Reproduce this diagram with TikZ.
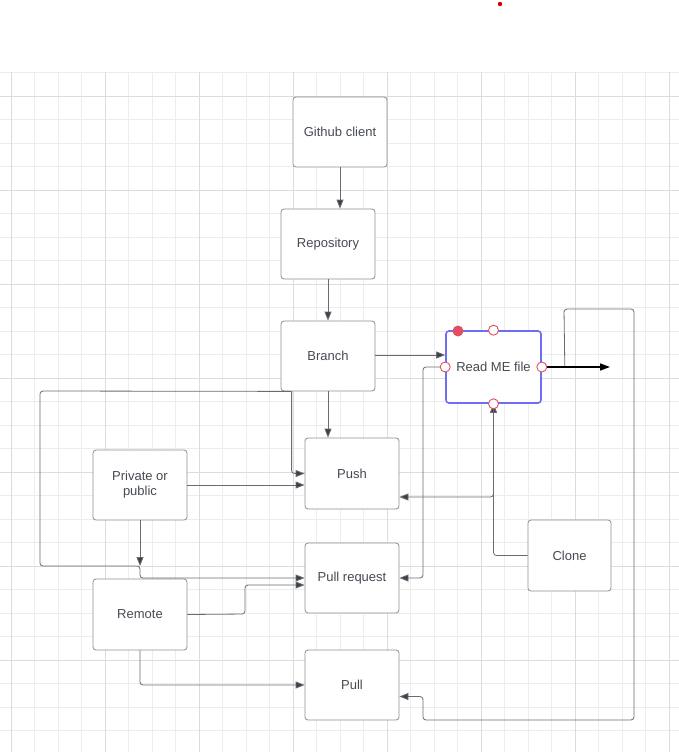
\documentclass[tikz,border=0pt]{standalone}
\usepackage{fontspec}
\setmainfont{Liberation Sans}
\usetikzlibrary{arrows.meta,calc}
\definecolor{gridminor}{HTML}{EDEDED}
\definecolor{gridmajor}{HTML}{DCDCDC}
\definecolor{boxline}{HTML}{8B8F96}
\definecolor{txt}{HTML}{454A52}
\definecolor{wire}{HTML}{676C73}
\definecolor{tipc}{HTML}{3C4148}
\definecolor{selblue}{HTML}{6E6EF2}
\definecolor{handle}{HTML}{E0505E}
\begin{document}
\begin{tikzpicture}[x=1pt,y=-1pt,
  box/.style={draw=boxline,line width=0.8pt,fill=white,rounded corners=3pt,
    minimum width=94pt,minimum height=70pt,inner sep=0pt,
    font=\fontsize{13}{15}\selectfont,text=txt,align=center},
  conn/.style={draw=wire,line width=0.8pt,rounded corners=3pt,
    -{Triangle[length=9pt,width=7pt,fill=tipc]}},
  plain/.style={draw=wire,line width=0.8pt,rounded corners=3pt},
  hdl/.style={circle,draw=handle,fill=white,line width=0.9pt,minimum size=10pt,inner sep=0pt}]
\useasboundingbox (0,0) rectangle (679,752);
\fill[white] (0,0) rectangle (679,752);
% background grid
\foreach \k in {0,...,28}{
  \pgfmathsetmacro{\gx}{11.3+23.5*\k}
  \draw[gridminor,line width=0.8pt] (\gx,72) -- (\gx,752);}
\foreach \k in {0,...,29}{
  \pgfmathsetmacro{\gy}{72.5+23.5*\k}
  \draw[gridminor,line width=0.8pt] (0,\gy) -- (679,\gy);}
\foreach \k in {0,...,7}{
  \pgfmathsetmacro{\gx}{11.3+94*\k}
  \draw[gridmajor,line width=0.9pt] (\gx,72) -- (\gx,752);}
\foreach \k in {0,...,7}{
  \pgfmathsetmacro{\gy}{96+94*\k}
  \draw[gridmajor,line width=0.9pt] (0,\gy) -- (679,\gy);}
% small red marker above the canvas
\fill[red!85!black] (500,4) circle (2.2pt);

% nodes
\node[box] (gh) at (340,132) {Github client};
\node[box] (repo) at (328,244) {Repository};
\node[box] (branch) at (328,356) {Branch};
\node[box,minimum width=95pt,minimum height=72pt,draw=selblue,line width=1.6pt] (readme) at (493.5,367) {Read ME file};
\node[box,minimum height=71pt] (push) at (352,473.5) {Push};
\node[box] (priv) at (140,485) {Private or\\public};
\node[box] (preq) at (352,578) {Pull request};
\node[box,minimum width=83pt,minimum height=71pt] (clone) at (569.5,555.5) {Clone};
\node[box,minimum height=71pt] (remote) at (140,614.5) {Remote};
\node[box] (pull) at (352,685) {Pull};

\coordinate (join) at (140,566);
\coordinate (outtip) at (610,367);

% connectors
\draw[conn] (gh.south) -- (gh.south |- repo.north);
\draw[conn] (repo.south) -- (branch.north);
\draw[conn] (branch.east |- 0,355) -- (readme.west |- 0,355);
\draw[conn] (branch.south) -- (branch.south |- push.north);
\draw[conn] ([xshift=11pt]branch.south west) |- (push.west);
\draw[conn] ([xshift=11pt]branch.south west) -- (40,391) -- (40,566) -- (join) -- (140,578) -- (preq.west);
\draw[conn] (priv.east) -- (priv.east -| push.west);
\draw[conn] (priv.south) -- (join);
\draw[conn] (remote.east) -- (245,614) |- ([yshift=-7pt]preq.west);
\draw[conn] (remote.south) |- (pull.west);
\draw[conn] (readme.west) -- (423,367) |- (preq.east);
\draw[conn] (clone.west) -| (readme.south);
\draw[conn] (readme.south) |- ([yshift=-23.5pt]push.east);
\draw[conn] ([xshift=23pt]readme.east) -- (564,309) -- (634,309) -- (634,720) -- (423,720) -- (423,696.5) -- ([yshift=-11.5pt]pull.east);
\draw[black,line width=1.6pt,-{Triangle[length=10pt,width=7pt]}] (readme.east) -- (outtip);

% selection handles
\node[hdl] (h1) at (readme.west) {};
\node[hdl] (h2) at (readme.east) {};
\node[hdl] (h3) at (readme.north) {};
\node[hdl] (h4) at (readme.south) {};
\node[circle,fill=handle,minimum size=11pt,inner sep=0pt] (h5) at (458,331) {};
\end{tikzpicture}
\end{document}
